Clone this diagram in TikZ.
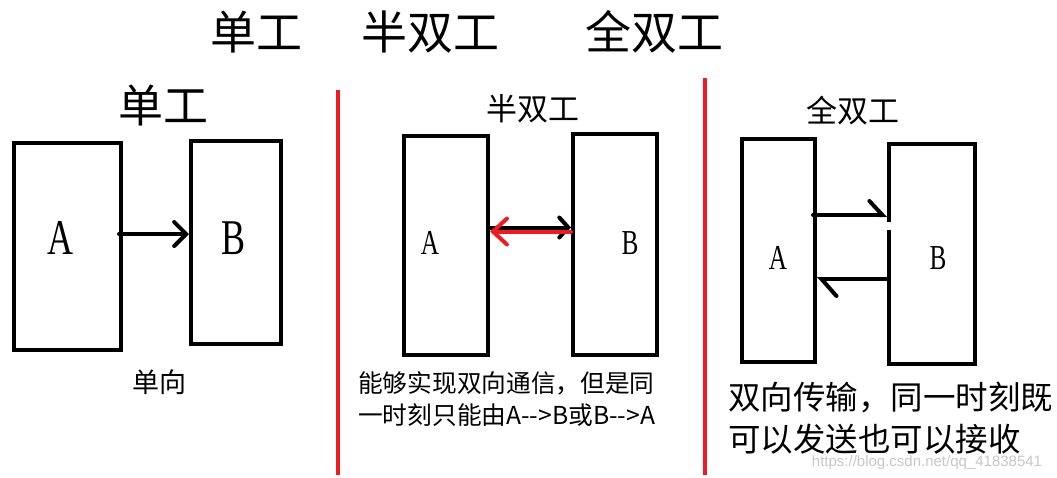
\documentclass[tikz,border=0pt]{standalone}
\usepackage{fontspec}
\setmainfont{Liberation Serif}
\newfontfamily\cjk{Noto Sans CJK SC}
\newfontfamily\wmfont{Liberation Sans}
\usetikzlibrary{arrows.meta}
\definecolor{sepred}{RGB}{237,28,36}
\tikzset{
  box/.style={draw=black, line width=4pt, inner sep=0pt, fill=none},
  letter/.style={inner sep=0pt, font=\fontsize{#1}{#1}\selectfont},
  cjklabel/.style={inner sep=0pt, font=\cjk\fontsize{#1}{#1}\selectfont},
  conn/.style={line width=4pt, line cap=round},
  sep/.style={draw=sepred, line width=4pt}
}
\begin{document}
\begin{tikzpicture}[x=1pt,y=-1pt]
\useasboundingbox (0,0) rectangle (1057,477);
% main title
\node[cjklabel=46] (t1) at (256,32) {单工};
\node[cjklabel=46] (t2) at (430,32) {半双工};
\node[cjklabel=46] (t3) at (654,32) {全双工};

% ---------- simplex ----------
\node[cjklabel=45] (s) at (163,105) {单工};
\node[box, minimum width=107pt, minimum height=207pt] (sA) at (67.5,246.5) {};
\node[box, minimum width=90pt, minimum height=203pt] (sB) at (236,242.5) {};
\node[letter=50] (sAl) at (60,238) {\scalebox{0.72}[1]{A}};
\node[letter=50] (sBl) at (234,238) {\scalebox{0.72}[1]{B}};
\coordinate (sy) at (0,234);
\draw[conn, -{Straight Barb[length=12pt,width=24pt,line cap=round]}] ([xshift=-4pt]sA.east |- sy) -- (sB.west |- sy);
\node[cjklabel=27] (sc) at (159,382) {单向};

\draw[sep] (338,90) -- (338,475);

% ---------- half duplex ----------
\node[cjklabel=31] (h) at (533,109) {半双工};
\node[box, minimum width=84pt, minimum height=219pt] (hA) at (446,245.5) {};
\node[box, minimum width=84pt, minimum height=221pt] (hB) at (615,244.5) {};
\node[letter=35] (hAl) at (430,243) {\scalebox{0.72}[1]{A}};
\node[letter=35] (hBl) at (630,243) {\scalebox{0.72}[1]{B}};
\coordinate (hy1) at (0,227.5);
\coordinate (hy2) at (0,231.5);
\draw[conn, -{Straight Barb[length=9pt,width=20pt,line cap=round]}] (hA.east |- hy1) -- (hB.west |- hy1);
\draw[conn, draw=sepred, -{Straight Barb[length=14pt,width=26pt,line cap=round]}] (hB.west |- hy2) -- (hA.east |- hy2);
\node[cjklabel=24.7, anchor=west] (hc1) at (358,383) {能够实现双向通信，但是同};
\node[cjklabel=24.7, anchor=west] (hc2) at (358,415) {一时刻只能由A-->B或B-->A};

\draw[sep] (705,78) -- (705,475);

% ---------- full duplex ----------
\node[cjklabel=31] (f) at (853,111) {全双工};
\node[box, minimum width=73pt, minimum height=223pt] (fA) at (778.5,250.5) {};
\node[box, minimum width=86pt, minimum height=220pt] (fB) at (932,254) {};
\fill[white] (886,222) rectangle (892,230);
\node[letter=35] (fAl) at (778,258) {\scalebox{0.72}[1]{A}};
\node[letter=35] (fBl) at (938,258) {\scalebox{0.72}[1]{B}};
\coordinate (fy1) at (0,215);
\coordinate (fy2) at (0,279);
\draw[conn, -{Straight Barb[harpoon,length=13pt,width=28pt,line cap=round]}] ([xshift=-4pt]fA.east |- fy1) -- (fB.west |- fy1);
\draw[conn, -{Straight Barb[harpoon,length=15pt,width=34pt,line cap=round]}] (fB.west |- fy2) -- (fA.east |- fy2);
\node[cjklabel=32.5, anchor=west] (fc1) at (728,397) {双向传输，同一时刻既};
\node[cjklabel=32.5, anchor=west] (fc2) at (728,439) {可以发送也可以接收};
\node[inner sep=0pt, text=black!22, font=\wmfont\fontsize{15}{15}\selectfont] (wm) at (927,463) {https://blog.csdn.net/qq\_41838541};
\end{tikzpicture}
\end{document}
